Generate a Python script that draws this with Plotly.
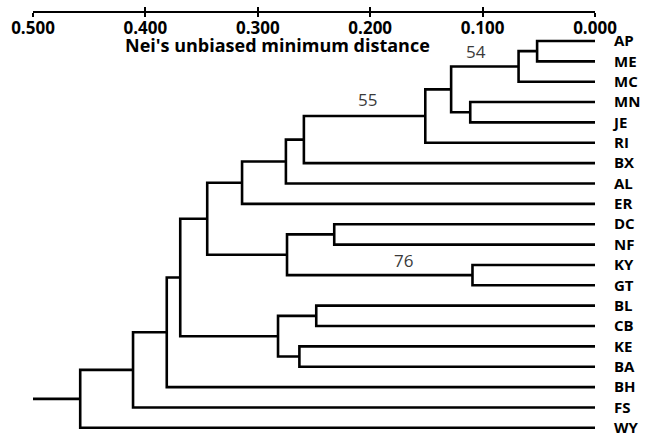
import plotly.graph_objects as go

# ---- data ----
leaves = ["AP", "ME", "MC", "MN", "JE", "RI", "BX", "AL", "ER", "DC",
          "NF", "KY", "GT", "BL", "CB", "KE", "BA", "BH", "FS", "WY"]

merge_names = ["n1", "n2", "n3", "n4", "n5", "n6", "n7", "n8", "n9", "n10",
               "n11", "n12", "n13", "n14", "n15", "n16", "n17", "n18", "n19"]
merge_left = ["AP", "n1", "MN", "n2", "n4", "n5", "n6", "n7", "DC", "KY",
              "n9", "n8", "BL", "KE", "n13", "n12", "n16", "n17", "n18"]
merge_right = ["ME", "MC", "JE", "n3", "RI", "BX", "AL", "ER", "NF", "GT",
               "n10", "n11", "CB", "BA", "n14", "n15", "BH", "FS", "WY"]
merge_height = [0.0515, 0.068, 0.111, 0.128, 0.151, 0.259, 0.275, 0.314, 0.232, 0.109,
                0.274, 0.345, 0.248, 0.263, 0.282, 0.369, 0.381, 0.411, 0.458]
root_start = 0.5

boot_labels = ["54", "55", "76"]
boot_x = [0.106, 0.2025, 0.170]
boot_y = [0.54, 2.85, 10.8]

tick_vals = [0.5, 0.4, 0.3, 0.2, 0.1, 0.0]
tick_text = ["0.500", "0.400", "0.300", "0.200", "0.100", "0.000"]
axis_title = "Nei's unbiased minimum distance"

# ---- build dendrogram segments ----
pos = {name: (0.0, i) for i, name in enumerate(leaves)}
xs, ys = [], []
for name, a, b, h in zip(merge_names, merge_left, merge_right, merge_height):
    xa, ya = pos[a]
    xb, yb = pos[b]
    xs += [xa, h, h, xb, None]
    ys += [ya, ya, yb, yb, None]
    pos[name] = (h, (ya + yb) / 2)
rx, ry = pos[merge_names[-1]]
xs += [root_start, rx, None]
ys += [ry, ry, None]

W, H = 649, 442
mt, mb, ml, mr = 5, 4, 33, 54
plot_h = H - mt - mb
y_top_px = 30.8
axis_px = 12

fig = go.Figure()
fig.add_trace(go.Scatter(x=xs, y=ys, mode="lines",
                         line=dict(color="black", width=2.6),
                         hoverinfo="skip", showlegend=False))
fig.add_trace(go.Scatter(x=[None], y=[None], xaxis="x2", yaxis="y",
                         mode="lines", showlegend=False, hoverinfo="skip"))

for t, x, y in zip(boot_labels, boot_x, boot_y):
    fig.add_annotation(x=x, y=y, xref="x", yref="y", text=t, showarrow=False,
                       font=dict(family="Open Sans", size=17, color="#3a3a3a"))

fig.add_annotation(x=0.0, y=(H - mb - 45) / plot_h, xref="paper", yref="paper",
                   xanchor="left", yanchor="middle",
                   text=axis_title, showarrow=False,
                   xshift=123 - ml,
                   font=dict(family="Open Sans", size=18, color="black", weight="bold"))

axis_pos = (H - mb - axis_px) / plot_h
common_x = dict(range=[0.5, 0.0], anchor="free", position=axis_pos, side="bottom",
                showgrid=False, zeroline=False, tickvals=tick_vals)

fig.update_layout(
    width=W, height=H,
    margin=dict(l=ml, r=mr, t=mt, b=mb),
    paper_bgcolor="white", plot_bgcolor="white",
    xaxis=dict(**common_x, showline=True, linecolor="black", linewidth=2,
               ticks="inside", ticklen=4, tickwidth=2, tickcolor="black",
               ticktext=tick_text, ticklabelstandoff=1,
               tickfont=dict(family="Open Sans", size=17, color="black", weight="bold")),
    xaxis2=dict(**common_x, overlaying="x", showline=False,
                ticks="outside", ticklen=4, tickwidth=2, tickcolor="black",
                showticklabels=False),
    yaxis=dict(range=[19.5, -0.5], domain=[0, (H - mb - y_top_px) / plot_h],
               side="right", tickvals=list(range(len(leaves))), ticktext=leaves,
               showgrid=False, zeroline=False, showline=False, ticks="",
               ticklabelstandoff=18,
               tickfont=dict(family="Open Sans", size=15, color="black", weight="bold")),
)

fig.write_html("out.html", config={"displayModeBar": False},
               post_script="document.body.style.margin='0px';document.body.style.overflow='hidden';")
